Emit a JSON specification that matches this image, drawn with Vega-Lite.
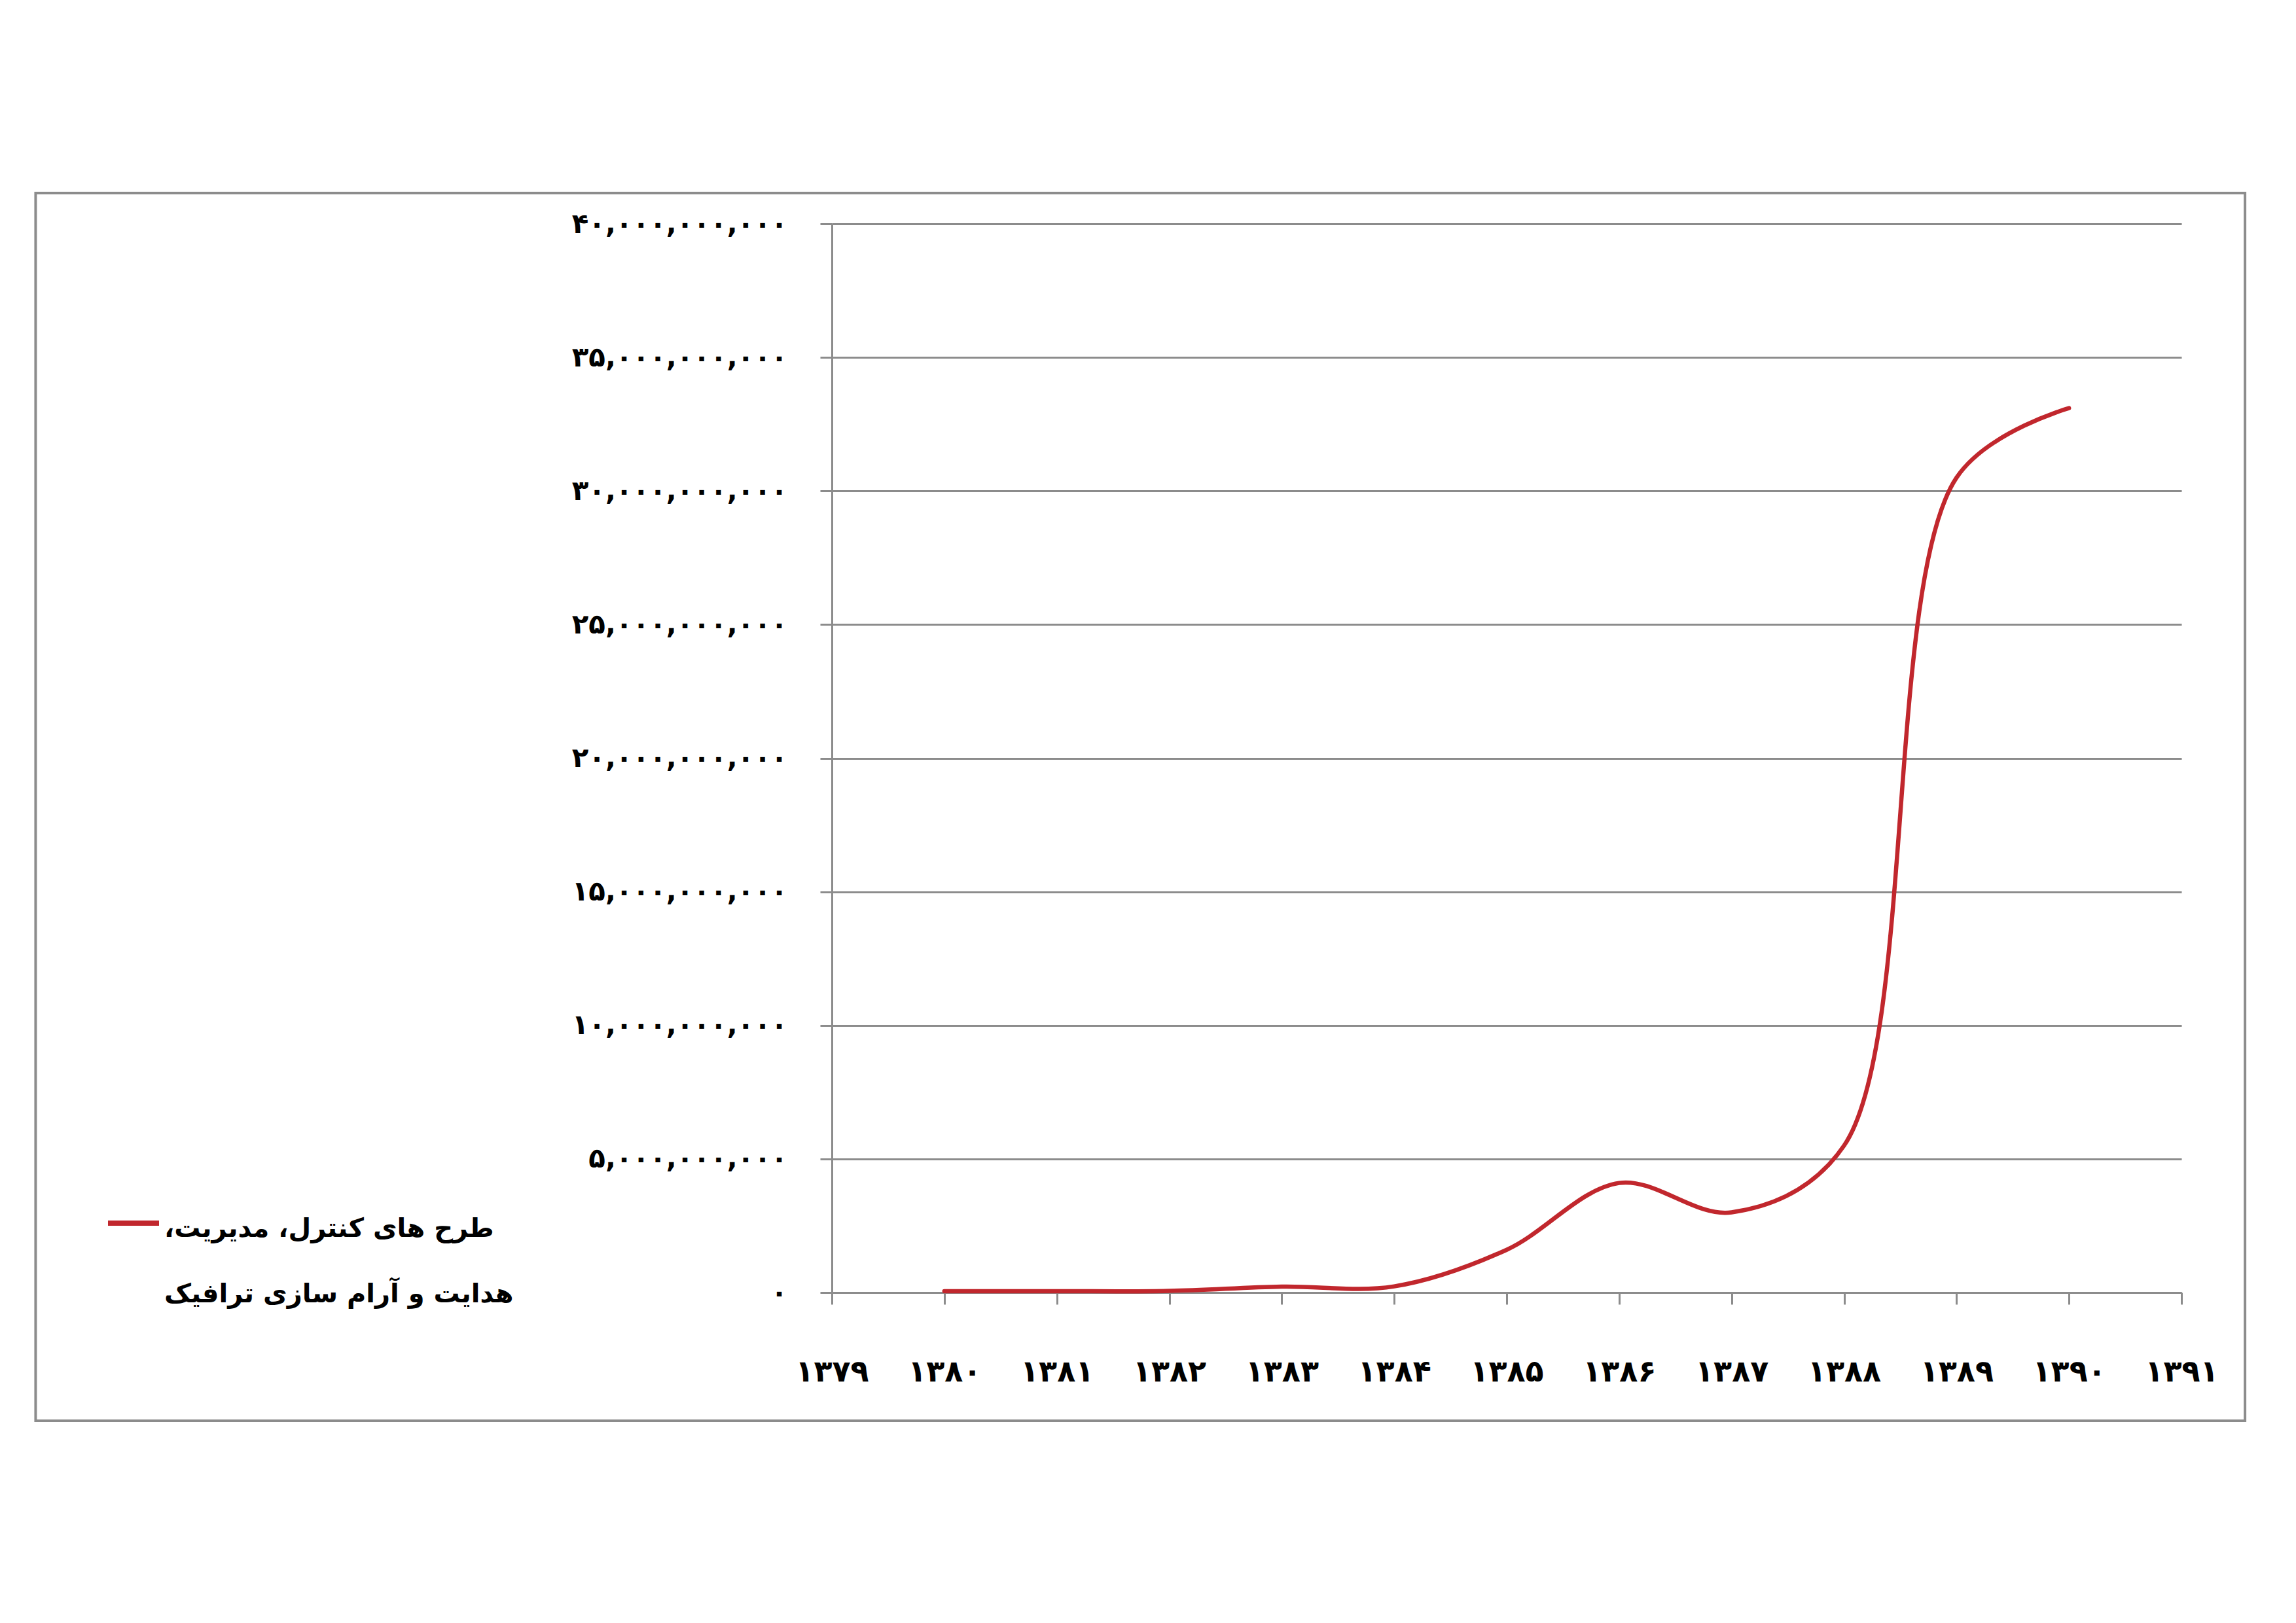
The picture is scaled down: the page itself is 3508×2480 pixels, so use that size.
{
  "$schema": "https://vega.github.io/schema/vega-lite/v6.json",
  "autosize": {"type": "none"},
  "width": 2062,
  "height": 1633,
  "padding": {"left": 1271, "top": 342, "right": 175, "bottom": 505},
  "background": "white",
  "config": {"view": {"stroke": null}, "font": "DejaVu Sans"},
  "layer": [
    {
      "data": {"values": [{}]},
      "mark": {"type": "rect", "filled": false, "stroke": "#8c8c8c", "strokeWidth": 4, "clip": false},
      "encoding": {
        "x": {"datum": 1371.92, "type": "quantitative", "scale": {"domain": [1379, 1391], "nice": false, "zero": false}},
        "x2": {"datum": 1391.565},
        "y": {"datum": 41151000000, "type": "quantitative", "scale": {"domain": [0, 40000000000], "nice": false}},
        "y2": {"datum": -4801000000}
      }
    },
    {
      "data": {
        "values": [
          {"year": 1380, "value": 50000000, "series": "طرح های کنترل، مدیریت، هدایت و آرام سازی ترافیک"},
          {"year": 1381, "value": 50000000, "series": "طرح های کنترل، مدیریت، هدایت و آرام سازی ترافیک"},
          {"year": 1382, "value": 60000000, "series": "طرح های کنترل، مدیریت، هدایت و آرام سازی ترافیک"},
          {"year": 1383, "value": 220000000, "series": "طرح های کنترل، مدیریت، هدایت و آرام سازی ترافیک"},
          {"year": 1384, "value": 230000000, "series": "طرح های کنترل، مدیریت، هدایت و آرام سازی ترافیک"},
          {"year": 1385, "value": 1600000000, "series": "طرح های کنترل، مدیریت، هدایت و آرام سازی ترافیک"},
          {"year": 1386, "value": 4100000000, "series": "طرح های کنترل، مدیریت، هدایت و آرام سازی ترافیک"},
          {"year": 1387, "value": 3000000000, "series": "طرح های کنترل، مدیریت، هدایت و آرام سازی ترافیک"},
          {"year": 1388, "value": 5500000000, "series": "طرح های کنترل، مدیریت، هدایت و آرام سازی ترافیک"},
          {"year": 1389, "value": 30500000000, "series": "طرح های کنترل، مدیریت، هدایت و آرام سازی ترافیک"},
          {"year": 1390, "value": 33100000000, "series": "طرح های کنترل، مدیریت، هدایت و آرام سازی ترافیک"}
        ]
      },
      "mark": {"type": "line", "interpolate": "catmull-rom", "strokeWidth": 6.5, "strokeCap": "round"},
      "encoding": {
        "x": {
          "field": "year", "type": "quantitative",
          "scale": {"domain": [1379, 1391], "nice": false, "zero": false},
          "axis": {
            "title": null,
            "values": [1379, 1380, 1381, 1382, 1383, 1384, 1385, 1386, 1387, 1388, 1389, 1390, 1391],
            "grid": false,
            "domainColor": "#8c8c8c", "domainWidth": 3,
            "tickColor": "#8c8c8c", "tickWidth": 3, "tickSize": 18,
            "labelPadding": 81, "labelFont": "DejaVu Sans", "labelFontWeight": "bold", "labelFontSize": 46, "labelColor": "black",
            "labelFlush": false, "labelOverlap": false, "labelLimit": 0,
            "labelExpr": "replace(replace(replace(replace(replace(replace(replace(replace(replace(replace(format(datum.value,'d'),regexp('0','g'),'۰'),regexp('1','g'),'۱'),regexp('2','g'),'۲'),regexp('3','g'),'۳'),regexp('4','g'),'۴'),regexp('5','g'),'۵'),regexp('6','g'),'۶'),regexp('7','g'),'۷'),regexp('8','g'),'۸'),regexp('9','g'),'۹')"
          }
        },
        "y": {
          "field": "value", "type": "quantitative",
          "scale": {"domain": [0, 40000000000], "nice": false},
          "axis": {
            "title": null,
            "values": [0, 5000000000, 10000000000, 15000000000, 20000000000, 25000000000, 30000000000, 35000000000, 40000000000],
            "grid": true, "gridColor": "#8c8c8c", "gridWidth": 3,
            "domainColor": "#8c8c8c", "domainWidth": 3,
            "tickColor": "#8c8c8c", "tickWidth": 3, "tickSize": 18,
            "labelPadding": 50, "labelFont": "DejaVu Sans", "labelFontWeight": "bold", "labelFontSize": 42, "labelColor": "black",
            "labelFlush": false, "labelOverlap": false, "labelLimit": 0,
            "labelExpr": "replace(replace(replace(replace(replace(replace(replace(replace(replace(replace(format(datum.value,','),regexp('0','g'),'۰'),regexp('1','g'),'۱'),regexp('2','g'),'۲'),regexp('3','g'),'۳'),regexp('4','g'),'۴'),regexp('5','g'),'۵'),regexp('6','g'),'۶'),regexp('7','g'),'۷'),regexp('8','g'),'۸'),regexp('9','g'),'۹')"
          }
        },
        "color": {
          "field": "series", "type": "nominal",
          "scale": {"range": ["#c1272d"]},
          "legend": {
            "title": null,
            "orient": "none", "legendX": -1110, "legendY": 1484,
            "symbolType": "stroke", "symbolSize": 6084, "symbolStrokeWidth": 8,
            "labelFont": "DejaVu Sans", "labelFontSize": 40, "labelFontWeight": "bold", "labelColor": "black",
            "labelLimit": 0, "labelOffset": 4, "labelBaseline": "top",
            "labelExpr": "['طرح های کنترل، مدیریت،\u200f', 'هدایت و آرام سازی ترافیک']",
            "encode": {"labels": {"update": {"lineHeight": {"value": 100}, "dy": {"value": -11}}}}
          }
        }
      }
    }
  ]
}
